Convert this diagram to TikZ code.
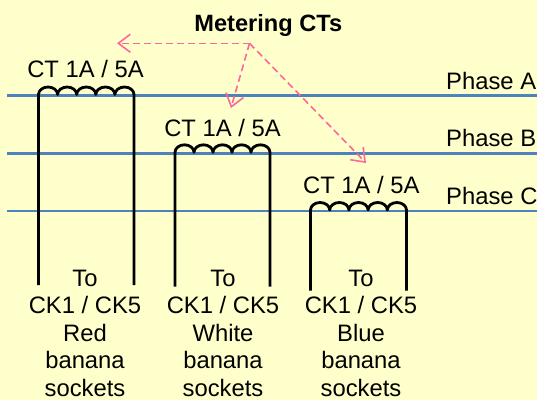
\documentclass[tikz,border=0pt]{standalone}
\usepackage{fontspec}
\setmainfont{Liberation Sans}
\usetikzlibrary{arrows.meta}
\definecolor{bgyellow}{HTML}{FFFFCC}
\definecolor{phaseblue}{HTML}{4F81BD}
\definecolor{hotpink}{HTML}{FF6699}
\begin{document}
\begin{tikzpicture}[x=1pt,y=-1pt,
  phaseline/.style={draw=phaseblue,line width=2.8pt},
  coilwire/.style={draw=black,line width=2.8pt,line join=round},
  lbl/.style={inner sep=0pt,font=\fontsize{23.8}{27.4}\selectfont},
  ctlabel/.style={lbl,anchor=base},
  phaselabel/.style={lbl,anchor=base west},
  socklabel/.style={lbl,anchor=north,align=center},
  title/.style={inner sep=0pt,anchor=base,font=\fontsize{23.6}{27.6}\selectfont\bfseries},
  pointer/.style={draw=hotpink,line width=1.6pt,dash pattern=on 7pt off 4pt,
    -{Straight Barb[length=12pt,width=18pt,line width=1.6pt]}}]
\fill[bgyellow] (0,0) rectangle (537,400);
\useasboundingbox (0,0) rectangle (537,400);
% phase conductors
\coordinate (pAw) at (7,95.5);   \coordinate (pAe) at (537,95.5);
\coordinate (pBw) at (7,153.3);\coordinate (pBe) at (537,153.3);
\coordinate (pCw) at (7,211);  \coordinate (pCe) at (537,211);
\draw[phaseline] (pAw) -- (pAe);
\draw[phaseline] (pBw) -- (pBe);
\draw[phaseline] (pCw) -- (pCe);
\node[phaselabel] (phA) at (446,89) {Phase A};
\node[phaselabel] (phB) at (446,146.5) {Phase B};
\node[phaselabel] (phC) at (446,204.5) {Phase C};
% coils
\draw[coilwire] (38.5,285) -- (38.5,94.5)
  arc[start angle=180,end angle=0,x radius=9.55pt,y radius=7.5pt]
  arc[start angle=180,end angle=0,x radius=9.55pt,y radius=7.5pt]
  arc[start angle=180,end angle=0,x radius=9.55pt,y radius=7.5pt]
  arc[start angle=180,end angle=0,x radius=9.55pt,y radius=7.5pt]
  arc[start angle=180,end angle=0,x radius=9.55pt,y radius=7.5pt]
  -- (134,285);
\draw[coilwire] (175,286.5) -- (175,152.3)
  arc[start angle=180,end angle=0,x radius=9.5pt,y radius=7.5pt]
  arc[start angle=180,end angle=0,x radius=9.5pt,y radius=7.5pt]
  arc[start angle=180,end angle=0,x radius=9.5pt,y radius=7.5pt]
  arc[start angle=180,end angle=0,x radius=9.5pt,y radius=7.5pt]
  arc[start angle=180,end angle=0,x radius=9.5pt,y radius=7.5pt]
  -- (270,286.5);
\draw[coilwire] (310.5,290.5) -- (310.5,210)
  arc[start angle=180,end angle=0,x radius=9.6pt,y radius=7.5pt]
  arc[start angle=180,end angle=0,x radius=9.6pt,y radius=7.5pt]
  arc[start angle=180,end angle=0,x radius=9.6pt,y radius=7.5pt]
  arc[start angle=180,end angle=0,x radius=9.6pt,y radius=7.5pt]
  arc[start angle=180,end angle=0,x radius=9.6pt,y radius=7.5pt]
  -- (406.5,290.5);
% CT labels
\node[ctlabel] (ct1) at (85.5,77) {CT 1A / 5A};
\node[ctlabel] (ct2) at (222.5,136) {CT 1A / 5A};
\node[ctlabel] (ct3) at (361.3,193.3) {CT 1A / 5A};
% socket labels
\node[socklabel] (s1) at (85,270) {To\\CK1 / CK5\\Red\\banana\\sockets};
\node[socklabel] (s2) at (223,270) {To\\CK1 / CK5\\White\\banana\\sockets};
\node[socklabel] (s3) at (361,270) {To\\CK1 / CK5\\Blue\\banana\\sockets};
% title and pointers
\node[title] (ttl) at (268.3,31) {Metering CTs};
\coordinate (org) at (249.5,43.3);
\coordinate (t1) at (117,43.3);
\coordinate (t2) at (231,108);
\coordinate (t3) at (366,163);
\draw[pointer] (org) -- (t1);
\draw[pointer] (org) -- (t2);
\draw[pointer] (org) -- (t3);
\end{tikzpicture}
\end{document}
